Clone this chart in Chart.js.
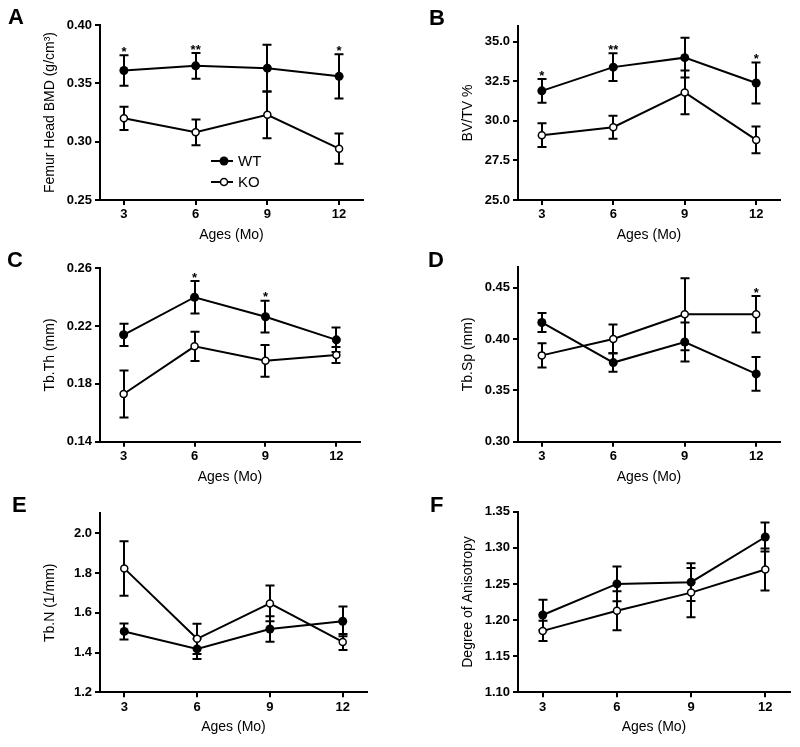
<!DOCTYPE html>
<html>
<head>
<meta charset="utf-8">
<script src="https://cdn.jsdelivr.net/npm/chart.js@4/dist/chart.umd.min.js"></script>
<style>
  html, body { margin:0; padding:0; background:#fff; }
  #fig { position:relative; width:800px; height:747px; overflow:hidden; font-family:"Liberation Sans", Arial, sans-serif; }
  #fig canvas { position:absolute; }
  .tag { position:absolute; font-weight:bold; font-size:22px; line-height:22px; color:#000; }
</style>
</head>
<body>
<div id="fig">
  <canvas id="cA" width="400" height="250" style="left:0;top:0"></canvas>
  <canvas id="cB" width="400" height="250" style="left:400px;top:0"></canvas>
  <canvas id="cC" width="400" height="250" style="left:0;top:250px"></canvas>
  <canvas id="cD" width="400" height="250" style="left:400px;top:250px"></canvas>
  <canvas id="cE" width="400" height="247" style="left:0;top:500px"></canvas>
  <canvas id="cF" width="400" height="247" style="left:400px;top:500px"></canvas>
  <div class="tag" style="left:8px;top:6px">A</div>
  <div class="tag" style="left:429px;top:7px">B</div>
  <div class="tag" style="left:7px;top:249px">C</div>
  <div class="tag" style="left:428px;top:249px">D</div>
  <div class="tag" style="left:12px;top:494px">E</div>
  <div class="tag" style="left:430px;top:494px">F</div>
</div>
<script>
const ages = [3, 6, 9, 12];
const xTicks = [3, 6, 9, 12];
const seriesNames = ['WT', 'KO'];

// A: femur head BMD
const bmdWT = [0.361, 0.365, 0.363, 0.356];
const bmdWTErr = [0.013, 0.011, 0.020, 0.019];
const bmdKO = [0.320, 0.308, 0.323, 0.294];
const bmdKOErr = [0.010, 0.011, 0.020, 0.013];
const bmdTicks = [0.25, 0.30, 0.35, 0.40];
const bmdStars = ['*', '**', '', '*'];

// B: BV/TV
const bvtvWT = [31.9, 33.4, 34.0, 32.4];
const bvtvWTErr = [0.75, 0.87, 1.25, 1.3];
const bvtvKO = [29.1, 29.6, 31.8, 28.8];
const bvtvKOErr = [0.75, 0.73, 1.38, 0.84];
const bvtvTicks = [25.0, 27.5, 30.0, 32.5, 35.0];
const bvtvStars = ['*', '**', '', '*'];

// C: Tb.Th
const tbthWT = [0.214, 0.240, 0.2265, 0.2105];
const tbthWTErr = [0.0077, 0.0112, 0.011, 0.0085];
const tbthKO = [0.173, 0.206, 0.196, 0.200];
const tbthKOErr = [0.0163, 0.0101, 0.011, 0.0055];
const tbthTicks = [0.14, 0.18, 0.22, 0.26];
const tbthStars = ['', '*', '*', ''];

// D: Tb.Sp
const tbspWT = [0.416, 0.377, 0.397, 0.366];
const tbspWTErr = [0.0093, 0.009, 0.019, 0.0165];
const tbspKO = [0.384, 0.400, 0.424, 0.424];
const tbspKOErr = [0.0117, 0.014, 0.035, 0.0177];
const tbspTicks = [0.30, 0.35, 0.40, 0.45];
const tbspStars = ['', '', '', '*'];

// E: Tb.N
const tbnWT = [1.506, 1.418, 1.518, 1.557];
const tbnWTErr = [0.040, 0.051, 0.064, 0.075];
const tbnKO = [1.823, 1.469, 1.647, 1.453];
const tbnKOErr = [0.137, 0.076, 0.090, 0.040];
const tbnTicks = [1.2, 1.4, 1.6, 1.8, 2.0];

// F: degree of anisotropy
const daWT = [1.207, 1.250, 1.2525, 1.315];
const daWTErr = [0.021, 0.024, 0.026, 0.020];
const daKO = [1.185, 1.213, 1.238, 1.270];
const daKOErr = [0.014, 0.027, 0.034, 0.029];
const daTicks = [1.10, 1.15, 1.20, 1.25, 1.30, 1.35];

const FONT = '"Liberation Sans", Arial, sans-serif';
Chart.defaults.font.family = FONT;
Chart.defaults.color = '#000';
Chart.defaults.animation = false;

// error bars, significance stars and (panel A) the legend
function extras(errs, stars, legend){
  return {
    id: 'extras',
    beforeDatasetsDraw(chart){
      const {ctx, scales:{x, y}} = chart;
      ctx.save();
      ctx.strokeStyle = '#000'; ctx.lineWidth = 2;
      chart.data.datasets.forEach((ds, di)=>{
        ds.data.forEach((p, i)=>{
          const px = Math.round(x.getPixelForValue(p.x));
          const top = y.getPixelForValue(p.y + errs[di][i]);
          const bot = y.getPixelForValue(p.y - errs[di][i]);
          ctx.beginPath();
          ctx.moveTo(px, top); ctx.lineTo(px, bot);
          ctx.moveTo(px-4.5, top); ctx.lineTo(px+4.5, top);
          ctx.moveTo(px-4.5, bot); ctx.lineTo(px+4.5, bot);
          ctx.stroke();
        });
      });
      ctx.restore();
    },
    afterDraw(chart){
      const {ctx, scales:{x, y}} = chart;
      ctx.save();
      ctx.fillStyle = '#000';
      if(stars){
        ctx.font = 'bold 13px ' + FONT;
        ctx.textAlign = 'center'; ctx.textBaseline = 'middle';
        stars.forEach((s, i)=>{
          if(!s) return;
          const tops = chart.data.datasets.map((ds, di)=> y.getPixelForValue(ds.data[i].y + errs[di][i]));
          ctx.fillText(s, x.getPixelForValue(ages[i]), Math.min(...tops) - 3);
        });
      }
      if(legend){
        ctx.font = '15px ' + FONT;
        ctx.textAlign = 'left'; ctx.textBaseline = 'middle';
        seriesNames.forEach((name, k)=>{
          const ly = 161 + k*21;
          ctx.strokeStyle = '#000'; ctx.lineWidth = 2;
          ctx.beginPath(); ctx.moveTo(211, ly); ctx.lineTo(233, ly); ctx.stroke();
          ctx.beginPath(); ctx.arc(224, ly, k ? 3.5 : 4.5, 0, Math.PI*2);
          ctx.fillStyle = k ? '#fff' : '#000'; ctx.fill();
          if(k){ ctx.lineWidth = 1.5; ctx.stroke(); }
          ctx.fillStyle = '#000';
          ctx.fillText(name, 238, ly + 1);
        });
      }
      ctx.restore();
    }
  };
}

function panel(o){
  const pts = vals => ages.map((a, i)=> ({x:a, y:vals[i]}));
  const axisGrid = {drawOnChartArea:false, color:'#000', lineWidth:2, tickLength:5};
  const axisBorder = {color:'#000', width:2};
  new Chart(document.getElementById(o.id), {
    type: 'line',
    data: {
      datasets: [
        {label:'WT', data:pts(o.wt), borderColor:'#000', borderWidth:2, tension:0,
         pointRadius:4.5, pointBackgroundColor:'#000', pointBorderWidth:0},
        {label:'KO', data:pts(o.ko), borderColor:'#000', borderWidth:2, tension:0,
         pointRadius:3.5, pointBackgroundColor:'#fff', pointBorderColor:'#000', pointBorderWidth:1.5}
      ]
    },
    options: {
      responsive:false, events:[],
      layout:{padding:o.pad},
      plugins:{legend:{display:false}, tooltip:{enabled:false}},
      scales:{
        x:{
          type:'linear', min:2, max:13,
          afterBuildTicks: s => { s.ticks = xTicks.map(v => ({value:v})); },
          afterFit: s => { s.height = 50; },
          grid:axisGrid, border:axisBorder,
          ticks:{font:{size:13, weight:'bold'}, color:'#000', padding:2, maxRotation:0, autoSkip:false},
          title:{display:true, text:'Ages (Mo)', font:{size:14}, color:'#000', padding:{top:0, bottom:6.6}}
        },
        y:{
          min:o.yMin, max:o.yMax,
          afterBuildTicks: s => { s.ticks = o.yTicks.map(v => ({value:v})); },
          afterFit: s => { s.width = 70; },
          grid:axisGrid, border:axisBorder,
          ticks:{font:{size:13, weight:'bold'}, color:'#000', padding:3, autoSkip:false,
                 callback: v => Number(v).toFixed(o.dec)},
          title:{display:true, text:o.yTitle, font:{size:14}, color:'#000', padding:{top:11.6, bottom:0}}
        }
      }
    },
    plugins:[extras([o.wtErr, o.koErr], o.stars, o.legend)]
  });
}

panel({id:'cA', wt:bmdWT, wtErr:bmdWTErr, ko:bmdKO, koErr:bmdKOErr, yTicks:bmdTicks, dec:2,
  yMin:0.25, yMax:0.40, yTitle:'Femur Head BMD (g/cm³)', stars:bmdStars, legend:true,
  pad:{left:30, right:37, top:25, bottom:0}});
panel({id:'cB', wt:bvtvWT, wtErr:bvtvWTErr, ko:bvtvKO, koErr:bvtvKOErr, yTicks:bvtvTicks, dec:1,
  yMin:25, yMax:36, yTitle:'BV/TV %', stars:bvtvStars,
  pad:{left:48, right:20, top:26, bottom:0}});
panel({id:'cC', wt:tbthWT, wtErr:tbthWTErr, ko:tbthKO, koErr:tbthKOErr, yTicks:tbthTicks, dec:2,
  yMin:0.14, yMax:0.26, yTitle:'Tb.Th (mm)', stars:tbthStars,
  pad:{left:30, right:40, top:18.3, bottom:8.3}});
panel({id:'cD', wt:tbspWT, wtErr:tbspWTErr, ko:tbspKO, koErr:tbspKOErr, yTicks:tbspTicks, dec:2,
  yMin:0.30, yMax:0.47, yTitle:'Tb.Sp (mm)', stars:tbspStars,
  pad:{left:48, right:20, top:17, bottom:8.3}});
panel({id:'cE', wt:tbnWT, wtErr:tbnWTErr, ko:tbnKO, koErr:tbnKOErr, yTicks:tbnTicks, dec:1,
  yMin:1.2, yMax:2.1, yTitle:'Tb.N (1/mm)',
  pad:{left:30, right:33, top:13.3, bottom:4.7}});
panel({id:'cF', wt:daWT, wtErr:daWTErr, ko:daKO, koErr:daKOErr, yTicks:daTicks, dec:2,
  yMin:1.10, yMax:1.35, yTitle:'Degree of Anisotropy',
  pad:{left:48, right:10, top:11.7, bottom:4.7}});
</script>
</body>
</html>
